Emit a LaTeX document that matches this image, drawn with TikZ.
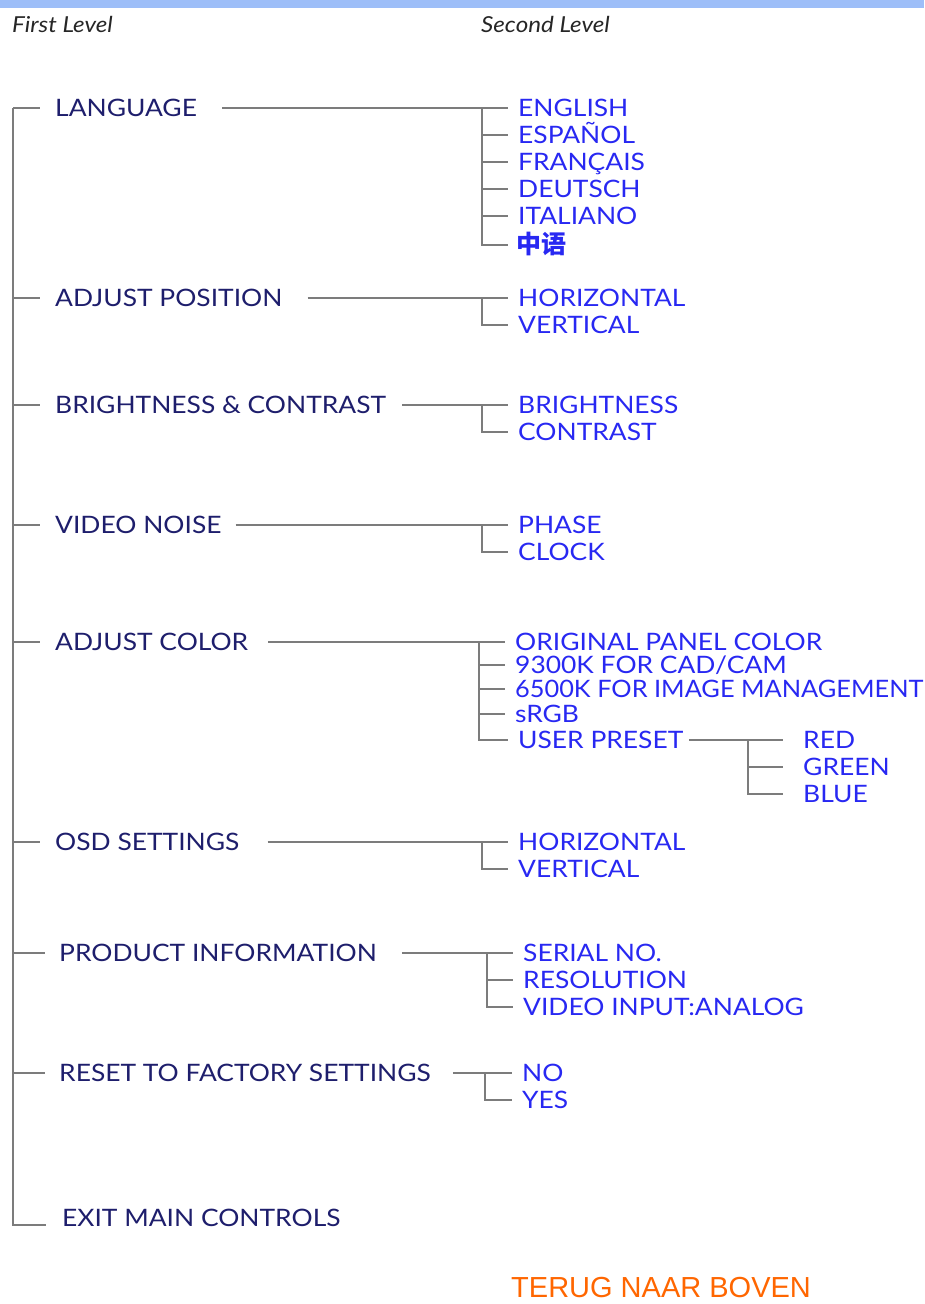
\documentclass[tikz,border=0pt]{standalone}
\usepackage{fontspec}
\setmainfont[FakeStretch=1.1]{Lato}
\newfontfamily\cjkfont{Noto Sans CJK SC}
\newfontfamily\linkfont{Liberation Sans}
\definecolor{barblue}{HTML}{9DBEF8}
\definecolor{menunavy}{HTML}{1E1E6C}
\definecolor{itemblue}{HTML}{2828F2}
\definecolor{linkorange}{HTML}{FF6600}
\definecolor{treegray}{HTML}{7C7C7C}

\begin{document}
\begin{tikzpicture}[x=1pt,y=-1pt,
    firstlvl/.style={anchor=west,inner sep=0pt,text height=17pt,text depth=0pt,
      text=menunavy,font=\fontsize{24}{24}\selectfont},
    secondlvl/.style={firstlvl,text=itemblue},
    heading/.style={anchor=west,inner sep=0pt,text=black!85,
      font=\fontsize{22}{22}\selectfont\itshape},
    tree/.style={draw=treegray,line width=1.6pt}]
    \useasboundingbox (0,0) rectangle (924,1304);
    \fill[barblue] (0,0) rectangle (924,8);

    \node[heading] (hd1) at (12,24) {First Level};
    \node[heading] (hd2) at (481,24) {Second Level};

    % first level
    \node[firstlvl] (lang) at (55,108) {LANGUAGE};
    \node[firstlvl] (pos) at (55,298) {ADJUST POSITION};
    \node[firstlvl] (brc) at (55,405) {BRIGHTNESS \& CONTRAST};
    \node[firstlvl] (noise) at (55,525) {VIDEO NOISE};
    \node[firstlvl] (color) at (55,642) {ADJUST COLOR};
    \node[firstlvl] (osd) at (55,842) {OSD SETTINGS};
    \node[firstlvl] (info) at (59,953) {PRODUCT INFORMATION};
    \node[firstlvl] (reset) at (59,1073) {RESET TO FACTORY SETTINGS};
    \node[firstlvl] (exit) at (62,1218) {EXIT MAIN CONTROLS};

    \coordinate (spine) at (13,108);
    \draw[tree] (spine) |- ([xshift=-16pt,yshift=-7pt]exit.west);
    \draw[tree] (spine |- lang) -- ([xshift=-15pt]lang.west);
    \draw[tree] (spine |- pos) -- ([xshift=-15pt]pos.west);
    \draw[tree] (spine |- brc) -- ([xshift=-15pt]brc.west);
    \draw[tree] (spine |- noise) -- ([xshift=-15pt]noise.west);
    \draw[tree] (spine |- color) -- ([xshift=-15pt]color.west);
    \draw[tree] (spine |- osd) -- ([xshift=-15pt]osd.west);
    \draw[tree] (spine |- info) -- ([xshift=-14pt]info.west);
    \draw[tree] (spine |- reset) -- ([xshift=-14pt]reset.west);

    % language
    \node[secondlvl] (en) at (518,108) {ENGLISH};
    \node[secondlvl] (es) at (518,135) {ESPAÑOL};
    \node[secondlvl] (fr) at (518,162) {FRANÇAIS};
    \node[secondlvl] (de) at (518,189) {DEUTSCH};
    \node[secondlvl] (it) at (518,216) {ITALIANO};
    \node[secondlvl,font=\fontsize{25}{25}\selectfont\cjkfont\bfseries] (zh) at (516,245) {中语};
    \coordinate (lang-br) at (482,108);
    \draw[tree] ([xshift=25pt]lang.east) -- (lang-br) -- ([xshift=-10pt]en.west);
    \draw[tree] (lang-br) |- ([xshift=-8pt]zh.west);
    \draw[tree] (lang-br |- es) -- ([xshift=-10pt]es.west);
    \draw[tree] (lang-br |- fr) -- ([xshift=-10pt]fr.west);
    \draw[tree] (lang-br |- de) -- ([xshift=-10pt]de.west);
    \draw[tree] (lang-br |- it) -- ([xshift=-10pt]it.west);

    % position
    \node[secondlvl] (pos-h) at (518,298) {HORIZONTAL};
    \node[secondlvl] (pos-v) at (518,325) {VERTICAL};
    \coordinate (pos-br) at (482,298);
    \draw[tree] ([xshift=25pt]pos.east) -- (pos-br) -- ([xshift=-10pt]pos-h.west);
    \draw[tree] (pos-br) |- ([xshift=-10pt]pos-v.west);

    % brightness
    \node[secondlvl] (brc-b) at (518,405) {BRIGHTNESS};
    \node[secondlvl] (brc-c) at (518,432) {CONTRAST};
    \coordinate (brc-br) at (482,405);
    \draw[tree] ([xshift=16pt]brc.east) -- (brc-br) -- ([xshift=-10pt]brc-b.west);
    \draw[tree] (brc-br) |- ([xshift=-10pt]brc-c.west);

    % noise
    \node[secondlvl] (phase) at (518,525) {PHASE};
    \node[secondlvl] (clock) at (518,552) {CLOCK};
    \coordinate (noise-br) at (482,525);
    \draw[tree] ([xshift=14pt]noise.east) -- (noise-br) -- ([xshift=-10pt]phase.west);
    \draw[tree] (noise-br) |- ([xshift=-10pt]clock.west);

    % color
    \node[secondlvl] (orig) at (515,642) {ORIGINAL PANEL COLOR};
    \node[secondlvl] (k93) at (515,665) {9300K FOR CAD/CAM};
    \node[secondlvl,xscale=0.96] (k65) at (515,689) {6500K FOR IMAGE MANAGEMENT};
    \node[secondlvl] (srgb) at (515,714) {sRGB};
    \node[secondlvl] (user) at (518,740) {USER PRESET};
    \coordinate (color-br) at (479,642);
    \draw[tree] ([xshift=20pt]color.east) -- (color-br) -- ([xshift=-10pt]orig.west);
    \draw[tree] (color-br) |- ([xshift=-10pt]user.west);
    \draw[tree] (color-br |- k93) -- ([xshift=-10pt]k93.west);
    \draw[tree] (color-br |- k65) -- ([xshift=-10pt]k65.west);
    \draw[tree] (color-br |- srgb) -- ([xshift=-10pt]srgb.west);

    \node[secondlvl] (red) at (803,740) {RED};
    \node[secondlvl] (green) at (803,767) {GREEN};
    \node[secondlvl] (blue) at (803,794) {BLUE};
    \coordinate (user-br) at (748,740);
    \draw[tree] ([xshift=6pt]user.east) -- (user-br) -- ([xshift=-20pt]red.west);
    \draw[tree] (user-br) |- ([xshift=-20pt]blue.west);
    \draw[tree] (user-br |- green) -- ([xshift=-20pt]green.west);

    % osd
    \node[secondlvl] (osd-h) at (518,842) {HORIZONTAL};
    \node[secondlvl] (osd-v) at (518,869) {VERTICAL};
    \coordinate (osd-br) at (482,842);
    \draw[tree] ([xshift=28pt]osd.east) -- (osd-br) -- ([xshift=-10pt]osd-h.west);
    \draw[tree] (osd-br) |- ([xshift=-10pt]osd-v.west);

    % product information
    \node[secondlvl] (serial) at (523,953) {SERIAL NO.};
    \node[secondlvl] (res) at (523,980) {RESOLUTION};
    \node[secondlvl] (input) at (523,1007) {VIDEO INPUT:ANALOG};
    \coordinate (info-br) at (487,953);
    \draw[tree] ([xshift=25pt]info.east) -- (info-br) -- ([xshift=-10pt]serial.west);
    \draw[tree] (info-br) |- ([xshift=-10pt]input.west);
    \draw[tree] (info-br |- res) -- ([xshift=-10pt]res.west);

    % reset
    \node[secondlvl] (no) at (522,1073) {NO};
    \node[secondlvl] (yes) at (522,1100) {YES};
    \coordinate (reset-br) at (485,1073);
    \draw[tree] ([xshift=22pt]reset.east) -- (reset-br) -- ([xshift=-10pt]no.west);
    \draw[tree] (reset-br) |- ([xshift=-10pt]yes.west);

    \node[anchor=base west,inner sep=0pt,text depth=0pt,text=linkorange,font=\fontsize{29}{29}\selectfont\linkfont] (top) at (511,1297) {TERUG NAAR BOVEN};
\end{tikzpicture}
\end{document}
